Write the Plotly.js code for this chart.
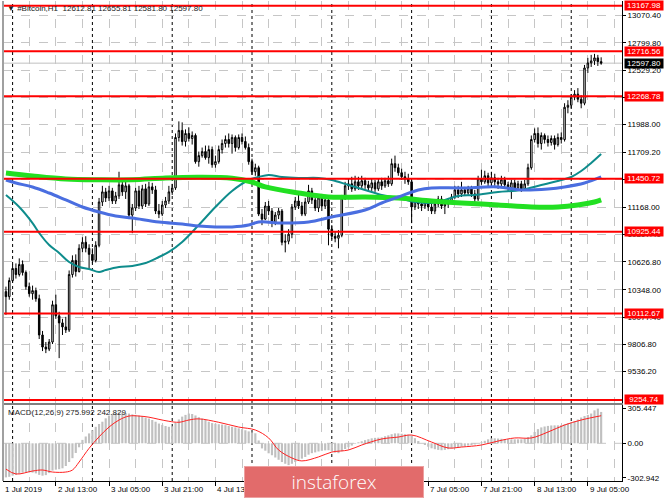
<!DOCTYPE html>
<html><head><meta charset="utf-8">
<script src="https://cdn.plot.ly/plotly-3.0.1.min.js"></script>
<style>html,body{margin:0;padding:0;background:#fff}#c{width:665px;height:499px}</style>
</head><body><div id="c"></div>
<script>
// ---------- DATA ----------
var symbolTitle = "\u25BC\u00A0#Bitcoin,H1\u00A0\u00A012612.81 12655.81 12581.80 12597.80";
var macdTitle = "MACD(12,26,9) 275.992 242.829";

var open = [10330,10280,10440,10560,10500,10600,10520,10380,10310,10340,
10260,9900,9780,9760,9830,10200,10090,10020,9980,9950,
10500,10640,10530,10760,10820,10760,10700,10640,10790,11220,
11320,11260,11330,11230,11280,11390,11320,11380,11090,11160,
11330,11180,11350,11200,11370,11340,11130,11100,11190,11230,
11320,11360,11860,11930,11820,11900,11850,11880,11620,11680,
11720,11660,11740,11590,11620,11740,11800,11840,11800,11860,
11760,11860,11820,11760,11620,11520,11560,11100,11050,11180,
11130,11020,11090,11130,10820,10830,10900,11170,11230,11180,
11100,11220,11330,11240,11160,11260,11180,11240,10950,10880,
10860,10890,11260,11380,11400,11350,11420,11380,11430,11390,
11360,11410,11350,11420,11380,11430,11400,11600,11560,11510,
11470,11450,11420,11170,11230,11200,11180,11220,11170,11130,
11200,11250,11180,11200,11230,11270,11340,11300,11340,11310,
11350,11300,11250,11450,11420,11480,11410,11460,11420,11400,
11440,11390,11360,11410,11360,11400,11350,11400,11560,11840,
11900,11800,11880,11840,11810,11850,11790,11860,11840,12160,
12180,12260,12290,12240,12200,12550,12600,12620,12650,12612.81];
var high = [10380,10470,10600,10610,10660,10640,10540,10420,10390,10370,
10300,9940,9830,9860,10240,10300,10130,10060,10080,10540,
10690,10700,10800,10870,10880,10800,10760,10830,11260,11380,
11360,11380,11360,11320,11520,11440,11420,11400,11200,11360,
11380,11390,11400,11420,11410,11380,11200,11230,11270,11380,
11400,11900,12020,12010,11940,11960,11920,11900,11720,11760,
11780,11780,11770,11680,11780,11840,11880,11900,11890,11880,
11890,11900,11870,11800,11650,11600,11580,11150,11220,11230,
11160,11120,11160,11150,10900,10950,11200,11270,11300,11220,
11260,11390,11360,11300,11290,11300,11290,11260,10990,10930,
10940,11290,11420,11450,11470,11480,11470,11480,11460,11430,
11450,11440,11450,11460,11460,11480,11650,11680,11600,11550,
11520,11500,11440,11260,11260,11240,11250,11250,11200,11230,
11280,11280,11240,11260,11300,11380,11380,11420,11370,11380,
11380,11340,11480,11540,11530,11510,11520,11500,11460,11480,
11470,11420,11440,11440,11430,11430,11440,11600,11880,11950,
11960,11910,11900,11880,11880,11880,11900,11910,12200,12230,
12290,12330,12350,12280,12580,12650,12680,12690,12680,12655.81];
var low = [10100,10250,10420,10460,10480,10490,10350,10280,10250,10230,
9860,9740,9720,9740,9810,10060,9670,9900,9920,9930,
10470,10480,10520,10720,10720,10560,10610,10620,10770,11180,
11220,11230,11200,11200,11250,11280,11250,11050,10910,11130,
11150,11150,11170,11180,11300,11100,11060,11080,11160,11200,
11290,11340,11820,11780,11770,11820,11790,11600,11570,11660,
11640,11600,11560,11560,11600,11700,11760,11760,11700,11720,
11740,11790,11740,11590,11490,11480,11080,10990,11040,11090,
10970,10990,11050,10790,10720,10800,10860,11140,11150,11080,
11080,11200,11200,11130,11120,11130,11150,10790,10850,10820,
10760,10870,11240,11340,11320,11330,11340,11350,11350,11320,
11330,11320,11330,11340,11360,11370,11380,11520,11480,11440,
11400,11390,11010,11140,11150,11130,11150,11130,11100,11100,
11170,11150,11100,11160,11200,11250,11260,11270,11280,11290,
11270,11190,11230,11390,11400,11370,11380,11380,11350,11370,
11360,11330,11250,11330,11340,11320,11330,11380,11540,11810,
11760,11740,11800,11770,11780,11740,11770,11800,11820,12100,
12150,12230,12210,12150,12180,12500,12560,12580,12570,12581.80];
var close = [10280,10440,10560,10500,10600,10520,10380,10310,10340,10260,
9900,9780,9760,9830,10200,10090,10020,9980,9950,10500,
10640,10530,10760,10820,10760,10700,10640,10790,11220,11320,
11260,11330,11230,11280,11390,11320,11380,11090,11160,11330,
11180,11350,11200,11370,11340,11130,11100,11190,11230,11320,
11360,11860,11930,11820,11900,11850,11880,11620,11680,11720,
11660,11740,11590,11620,11740,11800,11840,11800,11860,11760,
11860,11820,11760,11620,11520,11560,11100,11050,11180,11130,
11020,11090,11130,10820,10830,10900,11170,11230,11180,11100,
11220,11330,11240,11160,11260,11180,11240,10950,10880,10860,
10890,11260,11380,11400,11350,11420,11380,11430,11390,11360,
11410,11350,11420,11380,11430,11400,11600,11560,11510,11470,
11450,11420,11170,11230,11200,11180,11220,11170,11130,11200,
11250,11180,11200,11230,11270,11340,11300,11340,11310,11350,
11300,11250,11450,11420,11480,11410,11460,11420,11400,11440,
11390,11360,11410,11360,11400,11350,11400,11560,11840,11900,
11800,11880,11840,11810,11850,11790,11860,11840,12160,12180,
12260,12290,12240,12200,12550,12600,12620,12650,12612.81,12597.80];

// moving averages, read at bar numbers
var tealBar = [0,4,8,10,13,16,19,22,25,28,30,34,38,42,46,49,53,58,63,68,73,76,79,83,88,94,98,103,108,113,118,123,128,132,136,141,148,155,161,167,170,173,176,179];
var tealVal = [11289,11170,11011,10912,10793,10714,10624,10575,10555,10525,10545,10575,10585,10614,10674,10724,10823,10992,11170,11329,11438,11468,11488,11468,11458,11458,11438,11388,11339,11289,11259,11220,11210,11240,11279,11289,11319,11339,11388,11438,11468,11527,11607,11696];
var blueBar = [0,3,8,13,18,23,28,33,38,46,53,58,63,68,73,76,83,91,98,108,113,118,124,128,137,148,155,163,168,174,179];
var blueVal = [11438,11408,11369,11309,11240,11170,11120,11081,11061,11021,11001,10981,10972,10972,10991,11021,11011,11021,11071,11140,11210,11269,11339,11359,11359,11369,11339,11349,11369,11408,11468];
var greenBar = [0,8,18,28,38,48,58,68,74,78,88,97,108,118,128,137,148,158,166,172,177,179];
var greenVal = [11508,11478,11448,11440,11440,11458,11465,11455,11418,11369,11309,11269,11269,11259,11230,11210,11190,11170,11170,11190,11220,11240];

// MACD histogram, one per bar
var macdHist = [-300,-295,-285,-278,-268,-258,-255,-256,-258,-265,
-278,-285,-280,-262,-240,-232,-228,-220,-200,-165,
-131,-85,-35,30,60,87,115,145,170,190,
220,244,258,268,272,270,266,262,255,250,
244,236,226,218,205,190,174,162,152,145,
150,180,210,235,250,262,258,245,230,218,
205,190,178,172,168,165,160,152,145,140,
132,125,115,105,95,88,25,-45,-65,-88,
-105,-125,-145,-165,-180,-192,-180,-165,-148,-135,
-120,-100,-87,-80,-72,-66,-62,-61,-72,-82,
-87,-70,-50,-35,-20,-5,9,18,28,36,
44,48,50,52,62,70,80,87,87,84,
80,75,70,45,20,0,-15,-30,-44,-52,
-58,-61,-58,-52,-46,-40,-35,-30,-25,-20,
-17,-10,0,9,22,35,44,44,42,40,
38,36,35,35,35,35,40,55,70,100,
125,140,148,153,157,158,158,160,168,176,
183,195,210,227,240,250,262,290,305.447,275.992];
var signalBar = [0,3,8,11,14,18,20,22,25,28,31,34,37,40,43,46,49,52,55,58,64,70,75,79,82,86,89,94,98,103,107,113,118,122,128,133,137,143,148,153,158,163,168,173,179];
var signalVal = [-227,-270,-244,-235,-253,-253,-235,-165,-44,57,143,205,240,240,230,211,194,185,205,215,185,143,117,47,-59,-129,-155,-120,-77,-59,-15,38,55,73,11,-41,-33,-15,20,47,47,99,161,205,242.829];

// levels and axis labels
var levels = [13167.98,12716.56,12268.78,11450.72,10925.44,10112.67,9254.74];
var bidPrice = 12597.80;
var priceTicks = [13070.40,12799.80,12529.20,12258.60,11988.00,11709.20,11438.60,11168.00,10897.40,10626.80,10348.00,10077.40,9806.80,9536.20];
// labels fully covered by the level boxes are not shown in the reference
var priceTickText = ["13070.40","12799.80","12529.20","","11988.00","11709.20","","11168.00","10897.40","10626.80","10348.00","10077.40","9806.80","9536.20"];
var macdTicks = [305.447,0,-302.942];
var macdTickText = ["305.447","0.00","-302.942"];
var timeLabelAt = ["2019-07-02 13:00","2019-07-03 05:00","2019-07-03 21:00","2019-07-04 13:00","2019-07-05 05:00","2019-07-05 21:00","2019-07-06 13:00","2019-07-07 05:00","2019-07-07 21:00","2019-07-08 13:00","2019-07-09 05:00"];
// labels hidden behind the logo are left empty
var timeLabels = ["2 Jul 13:00","3 Jul 05:00","3 Jul 21:00","4 Jul 13:00","","","","7 Jul 05:00","7 Jul 21:00","8 Jul 13:00","9 Jul 05:00"];
var firstLabel = "1 Jul 2019";
var daySeparators = ["2019-07-02","2019-07-03","2019-07-04","2019-07-05","2019-07-06","2019-07-07","2019-07-08","2019-07-09"];

// ---------- BUILD ----------
var t0 = Date.UTC(2019,6,1,22,0,0); // first H1 bar
function p2(n){return (n<10?'0':'')+n;}
function ts(i){var d=new Date(t0+Math.round(i*3600000));
  return d.getUTCFullYear()+'-'+p2(d.getUTCMonth()+1)+'-'+p2(d.getUTCDate())+' '+p2(d.getUTCHours())+':'+p2(d.getUTCMinutes())+':'+p2(d.getUTCSeconds());}
var times = close.map(function(_,i){return ts(i);});
var gridTimes=[]; for(var i=-1;i<=186;i++){var h=(22+i)%24; if(h===5||h===13||h===21) gridTimes.push(ts(i));}
var xr=[ts(-0.887), ts(185.27)];
var F="Liberation Sans, Arial, sans-serif";
var GRID="#c6c6c6";

var traces=[
 {type:'candlestick', x:times, open:open, high:high, low:low, close:close, xaxis:'x', yaxis:'y',
  increasing:{line:{color:'#000',width:1}, fillcolor:'#ffffff'},
  decreasing:{line:{color:'#000',width:1}, fillcolor:'#000000'}, whiskerwidth:0, hoverinfo:'skip'},
 {type:'scatter', mode:'lines', x:tealBar.map(ts), y:tealVal, line:{color:'#0e8c8c',width:2,shape:'spline'}, xaxis:'x', yaxis:'y', hoverinfo:'skip'},
 {type:'scatter', mode:'lines', x:greenBar.map(ts), y:greenVal, line:{color:'#22e022',width:5,shape:'spline'}, xaxis:'x', yaxis:'y', hoverinfo:'skip'},
 {type:'scatter', mode:'lines', x:blueBar.map(ts), y:blueVal, line:{color:'#4a6ee0',width:3,shape:'spline'}, xaxis:'x', yaxis:'y', hoverinfo:'skip'},
 {type:'bar', x:times, y:macdHist, marker:{color:'#c0c0c0',line:{width:0}}, xaxis:'x2', yaxis:'y2', hoverinfo:'skip'},
 {type:'scatter', mode:'lines', x:signalBar.map(ts), y:signalVal, line:{color:'#ff2020',width:1,shape:'spline'}, xaxis:'x2', yaxis:'y2', hoverinfo:'skip'}
];

var shapes=[];
shapes.push({type:'line', xref:'paper', x0:0, x1:1, yref:'y', y0:bidPrice, y1:bidPrice, line:{color:'#c0c0c0',width:1}, layer:'below'});
daySeparators.forEach(function(d){shapes.push({type:'line', xref:'x', x0:d, x1:d, yref:'paper', y0:0, y1:1, line:{color:'#000',width:1,dash:'dot'}, layer:'below'});});
shapes.push({type:'line', xref:'x2', x0:xr[0], x1:xr[1], yref:'y2', y0:0, y1:0, line:{color:GRID,width:1,dash:'dash'}, layer:'below'});
levels.forEach(function(v){shapes.push({type:'line', xref:'paper', x0:0, x1:1, yref:'y', y0:v, y1:v, line:{color:'#ff0000',width:2}});});
shapes.push({type:'line', xref:'paper', x0:0, x1:0, yref:'paper', y0:0, y1:1, line:{color:'#a0a0a0',width:2}});

var ann=[];
ann.push({xref:'paper', yref:'paper', x:0, y:1, xanchor:'left', yanchor:'top', xshift:2, yshift:-1, text:symbolTitle, showarrow:false, font:{family:F,size:8,color:'#222'}});
ann.push({xref:'paper', yref:'paper', x:0, y:0.1583, xanchor:'left', yanchor:'top', xshift:3, yshift:-1, text:macdTitle, showarrow:false, font:{family:F,size:8,color:'#222'}});
ann.push({xref:'x2', yref:'paper', x:times[0], y:0, xanchor:'left', yanchor:'top', xshift:-3, yshift:-2, text:firstLabel, showarrow:false, font:{family:F,size:8,color:'#000'}});
timeLabelAt.forEach(function(t,k){ if(timeLabels[k]) ann.push({xref:'x2', yref:'paper', x:t, y:0, xanchor:'left', yanchor:'top', xshift:0, yshift:-2, text:timeLabels[k], showarrow:false, font:{family:F,size:8,color:'#000'}});});
levels.forEach(function(v){ann.push({xref:'paper', yref:'y', x:1, y:v, xanchor:'left', yanchor:'middle', xshift:2, text:v.toFixed(2), showarrow:false, bgcolor:'#ff0000', borderpad:0, width:38, height:9, font:{family:F,size:8,color:'#fff'}});});
ann.push({xref:'paper', yref:'y', x:1, y:bidPrice, xanchor:'left', yanchor:'middle', xshift:2, text:bidPrice.toFixed(2), showarrow:false, bgcolor:'#000000', borderpad:0, width:38, height:9, font:{family:F,size:8,color:'#fff'}});
ann.push({xref:'paper', yref:'paper', x:0.534, y:-0.003, xanchor:'center', yanchor:'middle', text:'instaforex', showarrow:false, bgcolor:'#e26b6b', bordercolor:'#eea0a0', borderwidth:1, width:176, height:28, font:{family:'Open Sans, sans-serif',size:19,color:'#ffffff',weight:300}});

var layout={
 width:665, height:499, margin:{l:3,r:43,t:1,b:18}, paper_bgcolor:'#fff', plot_bgcolor:'#fff', showlegend:false,
 boxgap:0.35, bargap:0.35, dragmode:false,
 xaxis:{type:'date', range:xr, anchor:'y', domain:[0,1], tickmode:'array', tickvals:gridTimes, showticklabels:false, ticks:'',
   showgrid:true, gridcolor:GRID, griddash:'dash', gridwidth:1, zeroline:false, showline:true, linecolor:'#808080', linewidth:2, rangeslider:{visible:false}, fixedrange:true},
 yaxis:{domain:[0.1625,1], range:[9224.8,13214.6], side:'right', anchor:'x', tickmode:'array', tickvals:priceTicks, ticktext:priceTickText,
   showgrid:true, gridcolor:GRID, griddash:'dash', ticks:'outside', ticklen:3, tickcolor:'#000', showline:true, linecolor:'#000', zeroline:false,
   tickfont:{family:F,size:8,color:'#000'}, fixedrange:true},
 xaxis2:{type:'date', range:xr, anchor:'y2', domain:[0,1], tickmode:'array', tickvals:timeLabelAt, showticklabels:false, ticks:'outside', ticklen:4, tickcolor:'#000',
   showgrid:true, gridcolor:GRID, griddash:'dash',
   minor:{tickmode:'array', tickvals:gridTimes, showgrid:true, gridcolor:GRID, griddash:'dash', ticks:''},
   zeroline:false, showline:true, linecolor:'#000', fixedrange:true},
 yaxis2:{domain:[0,0.1583], range:[-331.8,337], side:'right', anchor:'x2', tickmode:'array', tickvals:macdTicks, ticktext:macdTickText,
   showgrid:false, ticks:'outside', ticklen:3, tickcolor:'#000', showline:true, linecolor:'#000', zeroline:false,
   tickfont:{family:F,size:8,color:'#000'}, fixedrange:true},
 shapes:shapes, annotations:ann
};
Plotly.newPlot('c', traces, layout, {staticPlot:true, displayModeBar:false});
</script></body></html>
